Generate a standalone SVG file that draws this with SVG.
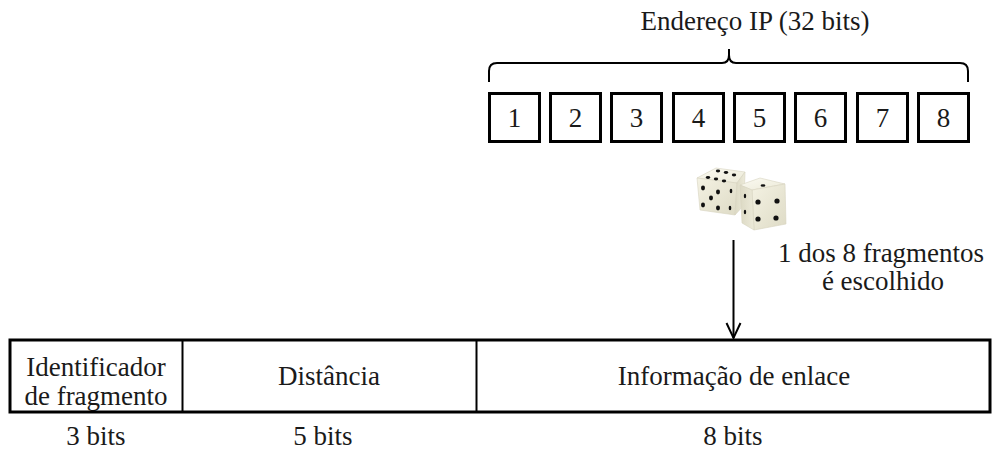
<svg xmlns="http://www.w3.org/2000/svg" width="993" height="450" viewBox="0 0 993 450" font-family="'Liberation Serif', 'DejaVu Serif', serif">
  <style>
    .t { font-size: 27px; fill: #1a1a1a; }
    .c { text-anchor: middle; }
    .box { fill: #ffffff; stroke: #000000; stroke-width: 3; }
    .ln { fill: none; stroke: #000000; stroke-width: 2; }
    .pip { fill: #111111; }
  </style>
  <defs>
    <linearGradient id="faceTop" x1="0" y1="0" x2="1" y2="1">
      <stop offset="0" stop-color="#fbfaf2"/>
      <stop offset="1" stop-color="#ecead8"/>
    </linearGradient>
    <linearGradient id="faceFront" x1="0" y1="0" x2="1" y2="1">
      <stop offset="0" stop-color="#f4f2e3"/>
      <stop offset="1" stop-color="#dedbc6"/>
    </linearGradient>
    <linearGradient id="faceSide" x1="0" y1="0" x2="1" y2="0">
      <stop offset="0" stop-color="#dcd9c4"/>
      <stop offset="1" stop-color="#ecead9"/>
    </linearGradient>
  </defs>

  <!-- IP address header -->
  <g id="ip-label">
    <text class="t c" x="755" y="30">Endereço IP (32 bits)</text>
  </g>
  <g id="ip-brace">
    <path class="ln" d="M489,82 V71 Q489,63 497,63 H722 Q729,63 729,55 V49 M729,55 Q729,63 736,63 H960 Q968,63 968,71 V82"/>
  </g>

  <!-- the eight 4-bit fragments -->
  <g id="frag-1"><rect class="box" x="489.5" y="93.5" width="50" height="48"/><text class="t c" x="514.5" y="127">1</text></g>
  <g id="frag-2"><rect class="box" x="550.5" y="93.5" width="50" height="48"/><text class="t c" x="575.5" y="127">2</text></g>
  <g id="frag-3"><rect class="box" x="611.5" y="93.5" width="50" height="48"/><text class="t c" x="636.5" y="127">3</text></g>
  <g id="frag-4"><rect class="box" x="673.5" y="93.5" width="50" height="48"/><text class="t c" x="698.5" y="127">4</text></g>
  <g id="frag-5"><rect class="box" x="734.5" y="93.5" width="50" height="48"/><text class="t c" x="759.5" y="127">5</text></g>
  <g id="frag-6"><rect class="box" x="795.5" y="93.5" width="50" height="48"/><text class="t c" x="820.5" y="127">6</text></g>
  <g id="frag-7"><rect class="box" x="857.5" y="93.5" width="50" height="48"/><text class="t c" x="882.5" y="127">7</text></g>
  <g id="frag-8"><rect class="box" x="918.5" y="93.5" width="50" height="48"/><text class="t c" x="943.5" y="127">8</text></g>

  <!-- pair of dice -->
  <g id="dice">
    <!-- left die -->
    <polygon points="697,178 716,168 745,172 737,183" fill="url(#faceTop)" stroke="#d6d3bf" stroke-width="0.6"/>
    <polygon points="697,178 737,183 735,215 700,210" fill="url(#faceFront)" stroke="#d6d3bf" stroke-width="0.6"/>
    <polygon points="737,183 745,172 744,205 735,215" fill="url(#faceSide)" stroke="#d6d3bf" stroke-width="0.6"/>
    <ellipse class="pip" cx="718" cy="171" rx="2.2" ry="1.4"/>
    <ellipse class="pip" cx="726" cy="172.5" rx="2.2" ry="1.4"/>
    <ellipse class="pip" cx="734" cy="175" rx="2.2" ry="1.4"/>
    <ellipse class="pip" cx="708" cy="177.5" rx="2.2" ry="1.4"/>
    <ellipse class="pip" cx="716" cy="179" rx="2.2" ry="1.4"/>
    <ellipse class="pip" cx="724" cy="181" rx="2.2" ry="1.4"/>
    <ellipse class="pip" cx="703" cy="188" rx="2" ry="2.4"/>
    <ellipse class="pip" cx="718" cy="192" rx="2" ry="2.4"/>
    <ellipse class="pip" cx="711" cy="198" rx="2" ry="2.4"/>
    <ellipse class="pip" cx="703" cy="205" rx="2" ry="2.4"/>
    <ellipse class="pip" cx="718" cy="208" rx="2" ry="2.4"/>
    <ellipse class="pip" cx="731" cy="191" rx="1.3" ry="2.3"/>
    <ellipse class="pip" cx="730" cy="208" rx="1.3" ry="2.3"/>
    <!-- right die -->
    <polygon points="740,185 760,178 785,184 752,190" fill="url(#faceTop)" stroke="#d6d3bf" stroke-width="0.6"/>
    <polygon points="752,190 785,184 786,224 754,230" fill="url(#faceFront)" stroke="#d6d3bf" stroke-width="0.6"/>
    <polygon points="740,185 752,190 754,230 742,223" fill="url(#faceSide)" stroke="#d6d3bf" stroke-width="0.6"/>
    <ellipse class="pip" cx="763" cy="185.5" rx="2.4" ry="1.3"/>
    <ellipse class="pip" cx="758" cy="202" rx="2.6" ry="2.6"/>
    <ellipse class="pip" cx="777" cy="201" rx="2.6" ry="2.6"/>
    <ellipse class="pip" cx="758" cy="219" rx="2.6" ry="2.6"/>
    <ellipse class="pip" cx="776" cy="218" rx="2.6" ry="2.6"/>
    <ellipse class="pip" cx="745" cy="196" rx="1.2" ry="2.2"/>
    <ellipse class="pip" cx="745" cy="212" rx="1.2" ry="2.2"/>
  </g>

  <g id="choice-label">
    <text class="t c" x="881" y="262">1 dos 8 fragmentos</text>
    <text class="t c" x="883" y="290">é escolhido</text>
  </g>

  <!-- selection arrow -->
  <g id="connectors">
    <path class="ln" d="M733.5,240 V338"/>
    <path class="ln" d="M726.5,323 L733.5,338 L740.5,323"/>
  </g>

  <!-- resulting 16-bit identifier -->
  <g id="field-fragment">
    <text class="t c" x="96" y="376">Identificador</text>
    <text class="t c" x="96" y="405">de fragmento</text>
    <text class="t c" x="96" y="445">3 bits</text>
  </g>
  <g id="field-distance">
    <text class="t c" x="329" y="385">Distância</text>
    <text class="t c" x="323" y="445">5 bits</text>
  </g>
  <g id="field-link">
    <text class="t c" x="734" y="385">Informação de enlace</text>
    <text class="t c" x="733" y="445">8 bits</text>
  </g>
  <g id="field-frame">
    <rect x="10" y="340" width="980" height="72" fill="none" stroke="#000000" stroke-width="3"/>
    <line x1="182.5" y1="340" x2="182.5" y2="412" stroke="#000000" stroke-width="2"/>
    <line x1="476.5" y1="340" x2="476.5" y2="412" stroke="#000000" stroke-width="2"/>
  </g>
</svg>
